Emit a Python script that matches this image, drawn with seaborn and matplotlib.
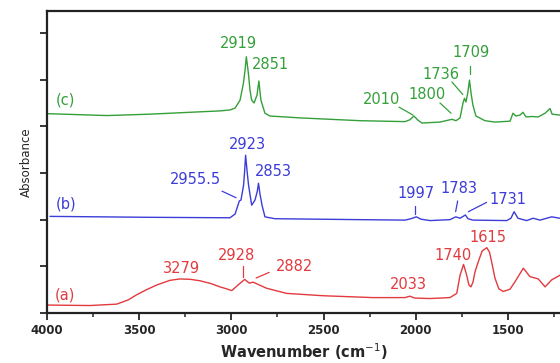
import numpy as np
import pandas as pd
import matplotlib
matplotlib.use("Agg")
import matplotlib.pyplot as plt
import seaborn as sns
from matplotlib.ticker import MultipleLocator

# ---- data (wavenumber cm-1, absorbance a.u. offset) ----
wn_c = [3995, 3675, 3441, 3224, 3062, 3008, 2980, 2953, 2935, 2926, 2919, 2908, 2899,
        2890, 2877, 2861, 2851, 2840, 2818, 2791, 2628, 2303, 2059, 2032, 2010, 1988,
        1967, 1869, 1804, 1782, 1760, 1744, 1736, 1728, 1718, 1709, 1700, 1690, 1674,
        1625, 1570, 1489, 1473, 1457, 1435, 1419, 1402, 1370, 1337, 1299, 1272, 1261,
        1218]
ab_c = [4.27, 4.23, 4.26, 4.30, 4.33, 4.35, 4.39, 4.56, 4.92, 5.20, 5.49, 5.14, 4.77,
        4.56, 4.50, 4.67, 4.97, 4.56, 4.28, 4.22, 4.18, 4.12, 4.10, 4.14, 4.22, 4.13,
        4.07, 4.09, 4.15, 4.12, 4.18, 4.50, 4.60, 4.52, 4.72, 4.99, 4.70, 4.45, 4.22,
        4.12, 4.09, 4.11, 4.28, 4.22, 4.24, 4.30, 4.20, 4.21, 4.20, 4.28, 4.38, 4.26,
        4.24]

wn_b = [3984, 3441, 3008, 2980, 2957, 2948, 2934, 2928, 2923, 2914, 2907, 2890, 2872,
        2860, 2853, 2845, 2834, 2818, 2764, 2303, 2059, 2026, 1997, 1972, 1923, 1815,
        1783, 1760, 1731, 1717, 1690, 1507, 1484, 1467, 1446, 1399, 1364, 1326, 1263,
        1218]
ab_b = [2.07, 2.05, 2.04, 2.12, 2.40, 2.42, 2.74, 3.05, 3.38, 3.00, 2.74, 2.31, 2.42,
        2.60, 2.78, 2.55, 2.31, 2.06, 2.02, 2.00, 1.99, 2.02, 2.06, 2.01, 1.98, 2.00,
        2.06, 2.03, 2.10, 2.02, 1.99, 1.98, 2.03, 2.17, 2.03, 1.98, 2.03, 1.99, 2.06,
        2.03]

wn_a = [3995, 3767, 3622, 3560, 3514, 3460, 3405, 3333, 3279, 3220, 3170, 3110, 3062,
        3020, 2998, 2964, 2928, 2903, 2882, 2809, 2700, 2503, 2232, 2059, 2033, 2006,
        1923, 1815, 1778, 1760, 1741, 1724, 1712, 1701, 1690, 1679, 1661, 1640, 1615,
        1600, 1589, 1571, 1550, 1526, 1489, 1462, 1417, 1381, 1336, 1299, 1263, 1218]
ab_a = [0.17, 0.16, 0.19, 0.28, 0.39, 0.50, 0.60, 0.70, 0.73, 0.72, 0.69, 0.63, 0.56,
        0.51, 0.48, 0.60, 0.72, 0.64, 0.66, 0.53, 0.42, 0.37, 0.33, 0.33, 0.36, 0.32,
        0.31, 0.33, 0.42, 0.81, 1.04, 0.81, 0.60, 0.56, 0.66, 0.88, 1.10, 1.33, 1.40,
        1.30, 1.10, 0.75, 0.52, 0.46, 0.51, 0.67, 0.96, 0.78, 0.73, 0.56, 0.71, 0.81]

series_labels = ["(c)", "(b)", "(a)"]

# annotations: (text, text_x, text_y, line_from, line_to)
ann_c = [("2919", 2964, 5.78, None, None),
         ("2851", 2791, 5.33, None, None),
         ("2010", 2183, 4.58, (2091, 4.41), (2015, 4.24)),
         ("1800", 1939, 4.69, (1869, 4.50), (1809, 4.28)),
         ("1736", 1863, 5.12, (1804, 4.95), (1745, 4.68)),
         ("1709", 1698, 5.59, (1707, 5.12), (1707, 5.29))]
ann_b = [("2923", 2915, 3.62, None, None),
         ("2853", 2772, 3.03, None, None),
         ("2955.5", 3197, 2.87, (3051, 2.61), (2975, 2.47)),
         ("1997", 1999, 2.56, (2004, 2.13), (2004, 2.29)),
         ("1783", 1766, 2.67, (1784, 2.17), (1773, 2.40)),
         ("1731", 1503, 2.43, (1715, 2.17), (1616, 2.37))]
ann_a = [("3279", 3268, 0.96, None, None),
         ("2928", 2971, 1.24, (2939, 0.78), (2939, 1.01)),
         ("2882", 2660, 1.00, (2866, 0.75), (2795, 0.87)),
         ("2033", 2042, 0.60, None, None),
         ("1740", 1796, 1.23, None, None),
         ("1615", 1608, 1.61, None, None)]

label_pos = [(3902, 4.56), (3897, 2.33), (3902, 0.39)]

green = "#34a03a"
blue = "#3c3cd8"
red = "#e23a3e"
colors = [green, blue, red]

sns.set_style("white")
plt.rcParams["font.family"] = ["DejaVu Sans"]

fig = plt.figure(figsize=(5.6, 3.63), dpi=100)
ax = fig.add_axes([47 / 560, 1 - 313 / 363, 1 - 47 / 560, (313 - 11) / 363])

frames = []
for lab, wn, ab in zip(series_labels, [wn_c, wn_b, wn_a], [ab_c, ab_b, ab_a]):
    frames.append(pd.DataFrame({"wn": wn, "ab": ab, "s": lab}))
df = pd.concat(frames, ignore_index=True)

sns.lineplot(data=df, x="wn", y="ab", hue="s", palette=dict(zip(series_labels, colors)),
             sort=False, estimator=None, lw=1.0, legend=False, ax=ax)

for anns, col in zip([ann_c, ann_b, ann_a], colors):
    for txt, tx, ty, p0, p1 in anns:
        ax.text(tx, ty, txt, color=col, fontsize=10.5, ha="center", va="center")
        if p0 is not None:
            ax.plot([p0[0], p1[0]], [p0[1], p1[1]], color=col, lw=0.9)

for lab, (lx, ly), col in zip(series_labels, label_pos, colors):
    ax.text(lx, ly, lab, color=col, fontsize=10.5, ha="center", va="center")

ax.set_xlim(4000, 1218)
ax.set_ylim(0, 6.47)
ax.xaxis.set_major_locator(MultipleLocator(500))
ax.xaxis.set_minor_locator(MultipleLocator(250))
ax.yaxis.set_major_locator(MultipleLocator(1))
ax.set_yticklabels([])
ax.tick_params(axis="x", which="major", direction="out", length=5, width=1.3,
               labelsize=8.5, pad=3, bottom=True)
ax.tick_params(axis="x", which="minor", direction="out", length=3, width=1.1, bottom=True)
ax.tick_params(axis="y", which="major", direction="out", length=5, width=1.3, left=True)
for t in ax.get_xticklabels():
    t.set_fontweight("bold")

for side in ["left", "top", "bottom"]:
    ax.spines[side].set_visible(True)
    ax.spines[side].set_color("#222222")
    ax.spines[side].set_linewidth(1.6)
ax.spines["right"].set_visible(False)

ax.set_xlabel("Wavenumber (cm$^{-1}$)", fontsize=10.5, fontweight="bold", labelpad=3)
ax.set_ylabel("Absorbance", fontsize=8.5, labelpad=2)

fig.savefig("out.png", dpi=100)
